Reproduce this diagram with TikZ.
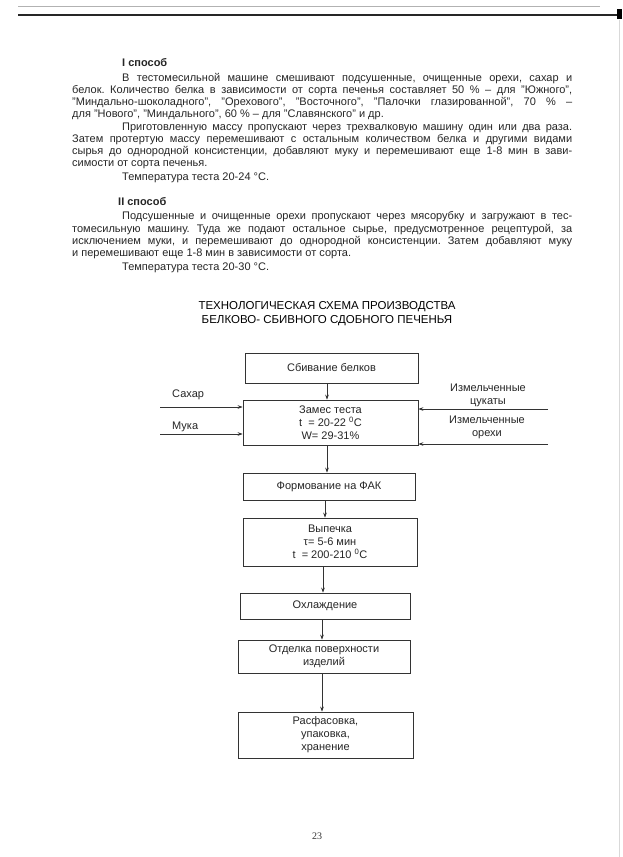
\documentclass[tikz,border=0pt]{standalone}
\usepackage{fontspec}
\setmainfont{Liberation Sans}
\newfontfamily\pagefont{Liberation Serif}
\usetikzlibrary{arrows.meta}
\begin{document}
\frenchspacing
\begin{tikzpicture}[x=1pt,y=-1pt,
  body/.style={anchor=base west, inner sep=0pt, font=\fontsize{11}{13}\selectfont\frenchspacing, text=black!85},
  head/.style={anchor=base west, inner sep=0pt, font=\fontsize{11}{13}\selectfont\bfseries, text=black!85},
  title/.style={inner sep=0pt, align=center, font=\fontsize{11.5}{14.5}\selectfont, text=black},
  stage/.style={draw=black!80, line width=0.7pt, align=center, inner sep=0pt, font=\fontsize{11}{13}\selectfont, text=black!85},
  lab/.style={inner sep=0pt, align=center, font=\fontsize{11}{13}\selectfont, text=black!85},
  flow/.style={draw=black!80, line width=0.7pt, -{Stealth[length=5pt,width=3.6pt]}}]
\useasboundingbox (0,0) rectangle (623,857);
\fill[white] (0,0) rectangle (623,857);
% scan edges
\draw[black!30, line width=0.8pt] (18,6) -- (600,6);
\draw[black!85, line width=2.6pt] (18,15) -- (617,15);
\fill[black] (617,9) rectangle (622,19);
\draw[black!15, line width=0.8pt] (619,20) -- (619,857);

% text
\def\jw#1#2{\makebox[#1pt][s]{#2}}
\node[head] (h1) at (122,66) {I способ};
\node[body] (l1) at (122,81) {\jw{450}{В тестомесильной машине смешивают подсушенные, очищенные орехи, сахар и}};
\node[body] (l2) at (72,93) {\jw{500}{белок. Количество белка в зависимости от сорта печенья составляет 50 \% – для "Южного",}};
\node[body] (l3) at (72,105) {\jw{500}{"Миндально-шоколадного", "Орехового", "Восточного", "Палочки глазированной", 70 \% –}};
\node[body] (l4) at (72,117) {для "Нового", "Миндального", 60 \% – для "Славянского" и др.};
\node[body] (l5) at (122,130) {\jw{450}{Приготовленную массу пропускают через трехвалковую машину один или два раза.}};
\node[body] (l6) at (72,142) {\jw{500}{Затем протертую массу перемешивают с остальным количеством белка и другими видами}};
\node[body] (l7) at (72,154) {\jw{500}{сырья до однородной консистенции, добавляют муку и перемешивают еще 1-8 мин в зави-}};
\node[body] (l8) at (72,166) {симости от сорта печенья.};
\node[body] (l9) at (122,180) {Температура теста 20-24 °С.};
\node[head] (h2) at (118,205) {II способ};
\node[body] (m1) at (122,219) {\jw{450}{Подсушенные и очищенные орехи пропускают через мясорубку и загружают в тес-}};
\node[body] (m2) at (72,232) {\jw{500}{томесильную машину. Туда же подают остальное сырье, предусмотренное рецептурой, за}};
\node[body] (m3) at (72,244) {\jw{500}{исключением муки, и перемешивают до однородной консистенции. Затем добавляют муку}};
\node[body] (m4) at (72,256) {и перемешивают еще 1-8 мин в зависимости от сорта.};
\node[body] (m5) at (122,270) {Температура теста 20-30 °С.};

\node[title] (t) at (327,313.5) {ТЕХНОЛОГИЧЕСКАЯ СХЕМА ПРОИЗВОДСТВА\\БЕЛКОВО- СБИВНОГО СДОБНОГО ПЕЧЕНЬЯ};

% flowchart
\node[stage, minimum width=173pt, minimum height=30pt] (b1) at (331.5,368) {Сбивание белков};
\node[stage, minimum width=175pt, minimum height=45pt] (b2) at (330.5,422.5) {Замес теста\\t\ \ = 20-22 \textsuperscript{0}C\\W= 29-31\%};
\node[stage, minimum width=172pt, minimum height=27pt] (b3) at (329,486.5) {Формование на ФАК};
\node[stage, minimum width=174pt, minimum height=48pt] (b4) at (330,542) {Выпечка\\τ= 5-6 мин\\t\ \ = 200-210 \textsuperscript{0}C};
\node[stage, minimum width=170pt, minimum height=26pt] (b5) at (325,606) {Охлаждение};
\node[stage, minimum width=172pt, minimum height=33pt] (b6) at (324,656.5) {Отделка поверхности\\изделий};
\node[stage, minimum width=175pt, minimum height=46pt] (b7) at (325.5,735) {Расфасовка,\\упаковка,\\хранение};

\draw[flow] ([xshift=-4.5pt]b1.south) -- ([xshift=-4.5pt]b1.south |- b2.north);
\draw[flow] ([xshift=-3.5pt]b2.south) -- ([xshift=-3.5pt]b2.south |- b3.north);
\draw[flow] ([xshift=-4pt]b3.south) -- ([xshift=-4pt]b3.south |- b4.north);
\draw[flow] ([xshift=-7pt]b4.south) -- ([xshift=-7pt]b4.south |- b5.north);
\draw[flow] ([xshift=-3pt]b5.south) -- ([xshift=-3pt]b5.south |- b6.north);
\draw[flow] ([xshift=-2pt]b6.south) -- ([xshift=-2pt]b6.south |- b7.north);

% side inputs
\coordinate (sL1) at (160,407);
\coordinate (sL2) at (160,434);
\coordinate (sR1) at (548,409);
\coordinate (sR2) at (548,444);
\node[lab, anchor=west] (sug) at (172,395) {Сахар};
\node[lab, anchor=west] (flr) at (172,427) {Мука};
\node[lab] (cand) at (488,395.5) {Измельченные\\цукаты};
\node[lab] (nuts) at (487,427.5) {Измельченные\\орехи};
\draw[flow] (sL1) -- (sL1 -| b2.west);
\draw[flow] (sL2) -- (sL2 -| b2.west);
\draw[flow] (sR1) -- (sR1 -| b2.east);
\draw[flow] (sR2) -- (sR2 -| b2.east);

\node[inner sep=0pt, font=\pagefont\fontsize{10}{12}\selectfont, text=black!80] (pg) at (317,836) {23};
\end{tikzpicture}
\end{document}
